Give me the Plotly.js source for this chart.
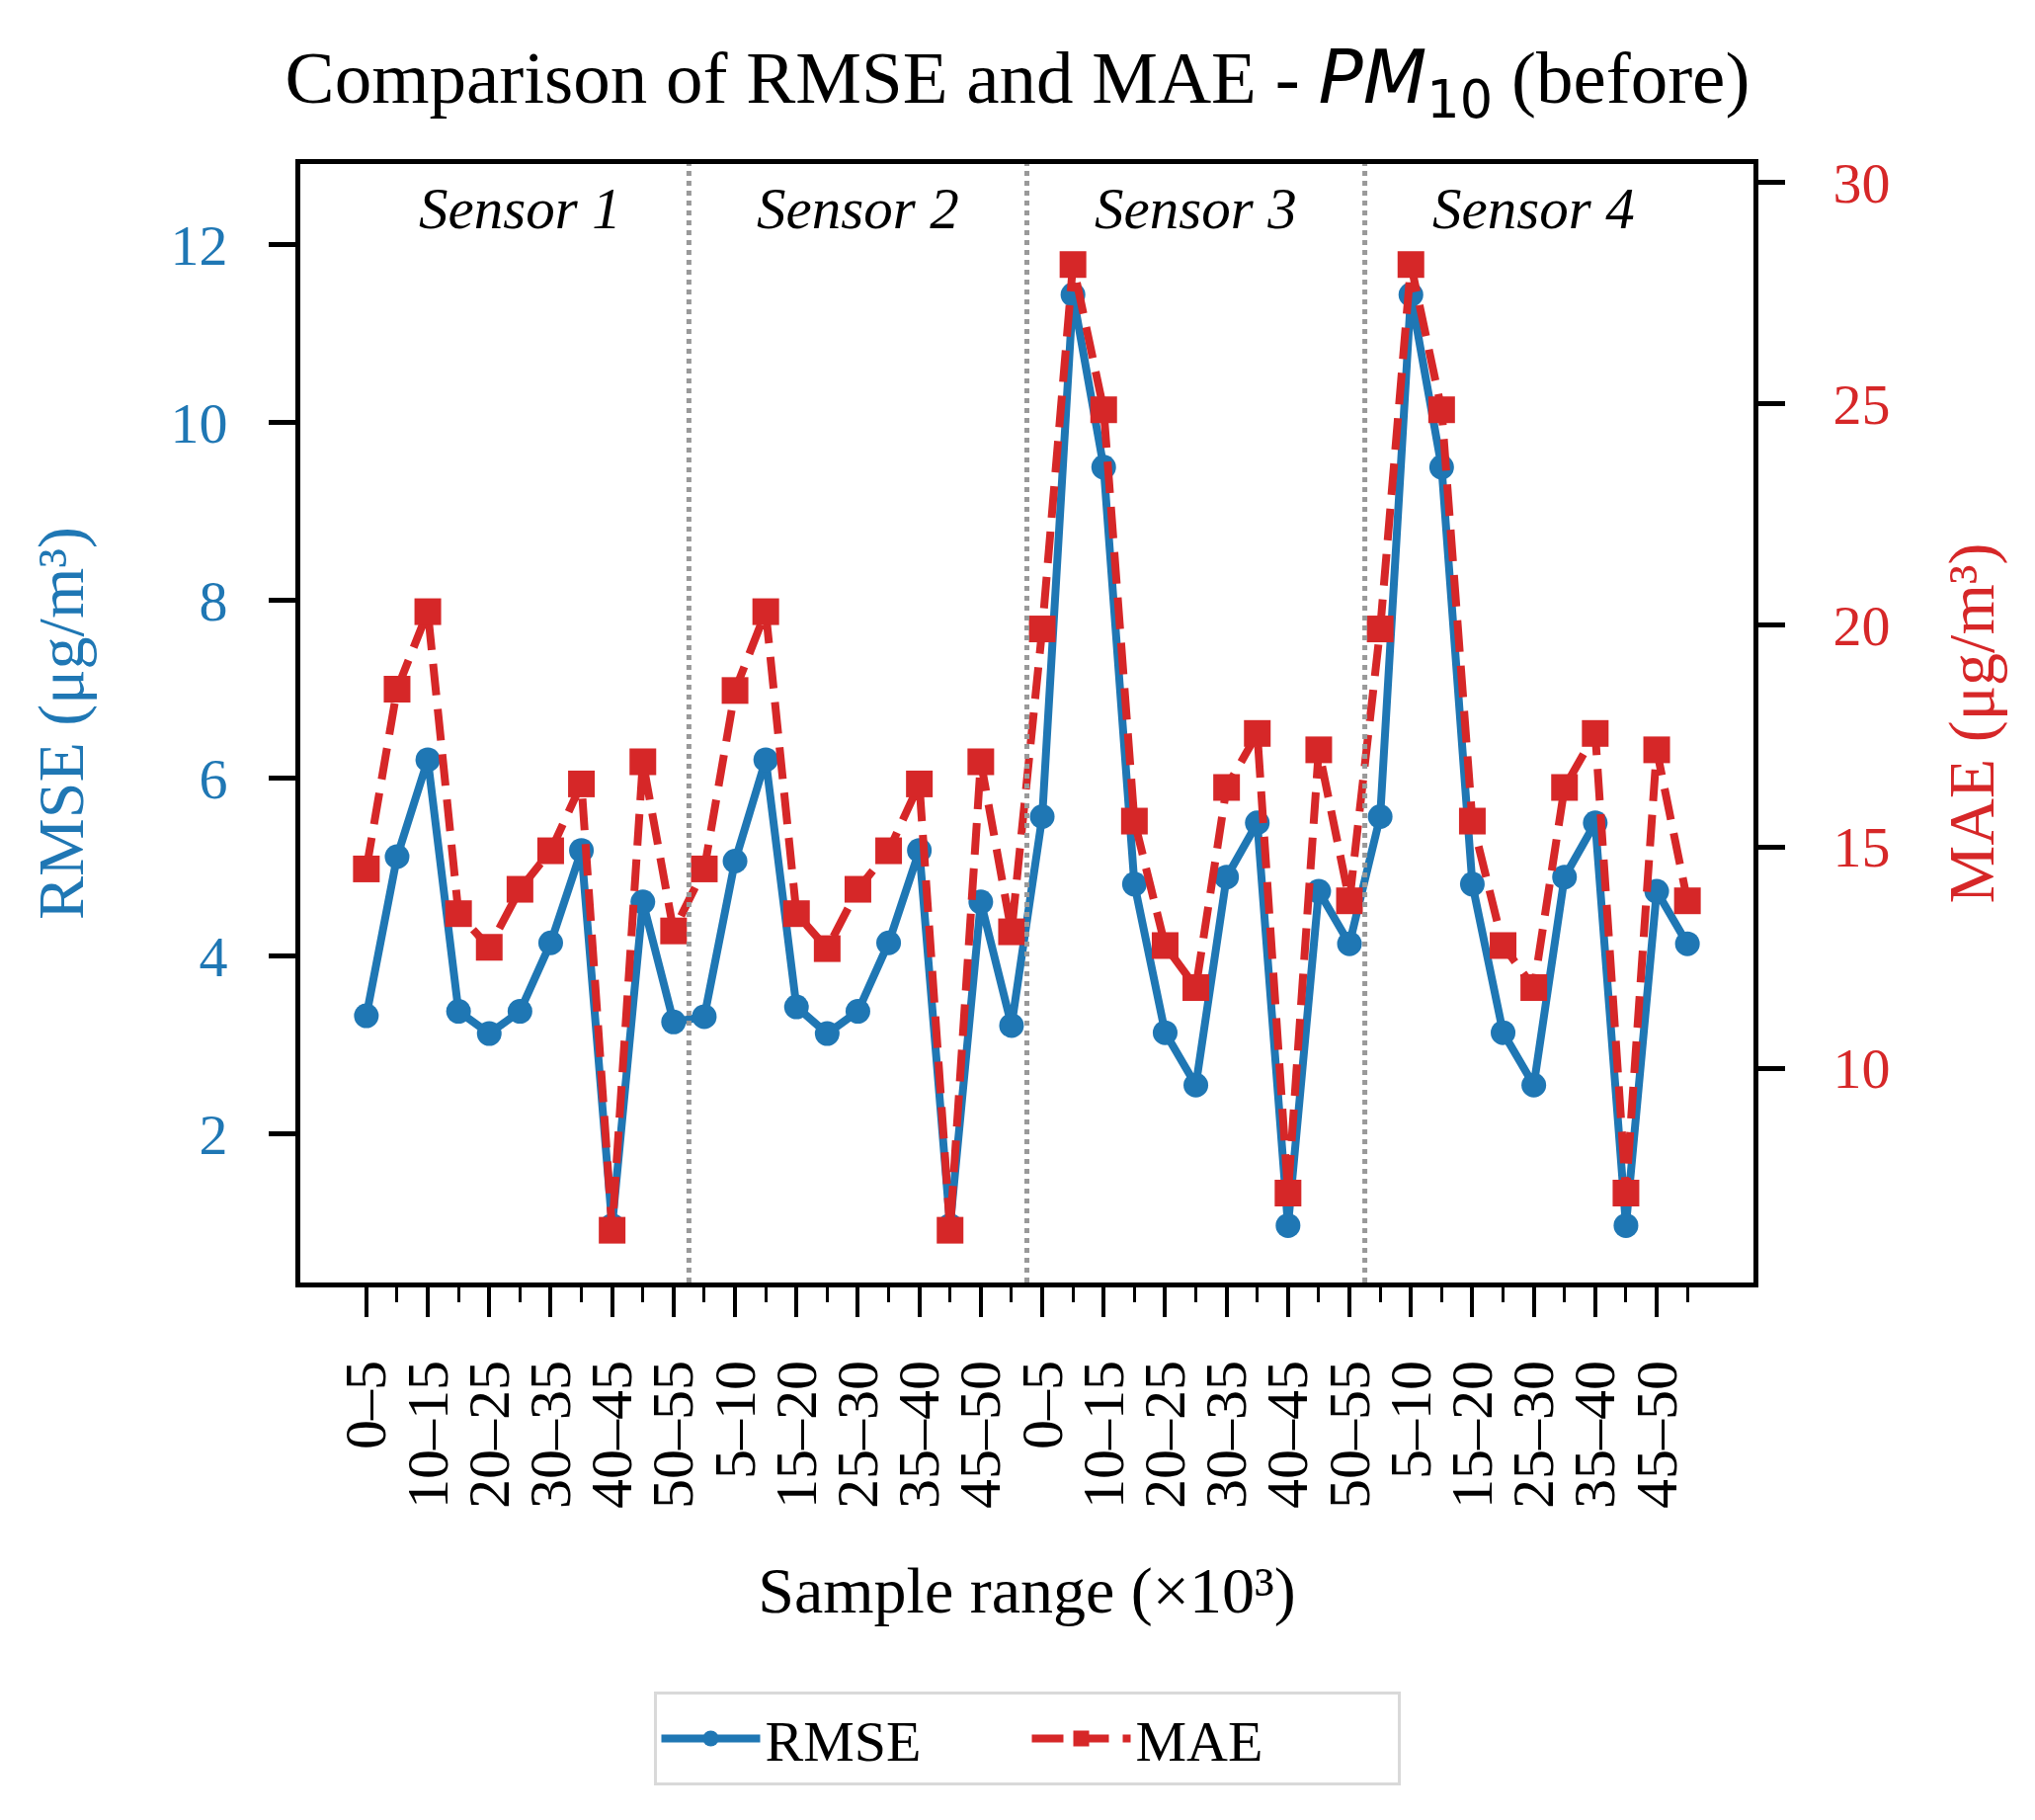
<!DOCTYPE html>
<html>
<head>
<meta charset="utf-8">
<script src="https://cdn.plot.ly/plotly-3.0.1.min.js"></script>
<style>
  html, body { margin: 0; padding: 0; background: #fff; }
  #chart { width: 2060px; height: 1842px; }
</style>
</head>
<body>
<div id="chart"></div>
<script>
/***** data *****/
var sensors = ['Sensor 1', 'Sensor 2', 'Sensor 3', 'Sensor 4'];
var ranges = ['0–5', '5–10', '10–15', '15–20', '20–25', '25–30',
              '30–35', '35–40', '40–45', '45–50', '50–55'];

var rmse1 = [3.33, 5.12, 6.21, 3.38, 3.13, 3.38, 4.15, 5.19, 0.97, 4.61, 3.26];
var rmse2 = [3.32, 5.07, 6.21, 3.43, 3.13, 3.38, 4.15, 5.19, 0.97, 4.61, 3.22];
var rmse3 = [5.57, 11.44, 9.50, 4.81, 3.14, 2.55, 4.89, 5.50, 0.97, 4.73, 4.14];
var rmse4 = [5.57, 11.44, 9.50, 4.81, 3.14, 2.55, 4.89, 5.50, 0.97, 4.73, 4.14];

var mae1 = [14.50, 18.56, 20.31, 13.49, 12.73, 14.04, 14.91, 16.42, 6.34, 16.92, 13.10];
var mae2 = [14.50, 18.53, 20.31, 13.49, 12.70, 14.04, 14.91, 16.42, 6.34, 16.92, 13.08];
var mae3 = [19.92, 28.15, 24.87, 15.58, 12.77, 11.82, 16.34, 17.56, 7.18, 17.19, 13.78];
var mae4 = [19.92, 28.15, 24.87, 15.58, 12.77, 11.82, 16.34, 17.56, 7.18, 17.19, 13.78];

/***** build series *****/
var rmse = rmse1.concat(rmse2, rmse3, rmse4);
var mae = mae1.concat(mae2, mae3, mae4);
var labels = [];
sensors.forEach(function () { labels = labels.concat(ranges); });
var idx = labels.map(function (d, i) { return i; });

var n = ranges.length;
var majorVals = idx.filter(function (i) { return i % 2 === 0; });
var majorText = majorVals.map(function (i) { return labels[i]; });
var minorVals = idx.filter(function (i) { return i % 2 === 1; });

var blue = '#1f77b4';
var red = '#d62728';
var serif = 'Liberation Serif, Times New Roman, serif';

var traceRmse = {
  x: idx,
  y: rmse,
  type: 'scatter',
  mode: 'lines+markers',
  name: 'RMSE',
  yaxis: 'y',
  line: { color: blue, width: 8 },
  marker: { color: blue, size: 25, symbol: 'circle' }
};

var traceMae = {
  x: idx,
  y: mae,
  type: 'scatter',
  mode: 'lines+markers',
  name: 'MAE',
  yaxis: 'y2',
  line: { color: red, width: 8, dash: '32px,14px' },
  marker: { color: red, size: 27, symbol: 'square' }
};

/***** separators and sensor names *****/
var shapes = [];
var annotations = [];
sensors.forEach(function (s, k) {
  if (k > 0) {
    shapes.push({
      type: 'line', xref: 'x', yref: 'paper',
      x0: k * n - 0.5, x1: k * n - 0.5, y0: 0, y1: 1,
      line: { color: '#999999', width: 5, dash: 'dot' }
    });
  }
  annotations.push({
    xref: 'x', yref: 'paper',
    x: k * n + (n - 1) / 2, y: 0.96,
    xanchor: 'center', yanchor: 'middle',
    text: '<i>' + s + '</i>',
    showarrow: false,
    font: { family: serif, size: 59, color: '#000' }
  });
});

var layout = {
  width: 2060,
  height: 1842,
  paper_bgcolor: '#fff',
  plot_bgcolor: '#fff',
  font: { family: serif, size: 58, color: '#000' },
  margin: { l: 304, r: 285, t: 166, b: 544 },
  title: {
    text: 'Comparison of RMSE and MAE - <span style="font-family:\'DejaVu Sans\'"><i>PM</i><sub>10</sub></span> (before)',
    font: { family: serif, size: 75, color: '#000' },
    x: 0.5, xanchor: 'center',
    y: 0.958, yanchor: 'middle'
  },
  xaxis: {
    range: [-2.15, 45.15],
    tickmode: 'array',
    tickvals: majorVals,
    ticktext: majorText,
    tickangle: -90,
    ticks: 'outside',
    ticklen: 30,
    tickwidth: 4,
    tickcolor: '#000',
    ticklabelstandoff: 20,
    minor: {
      tickmode: 'array',
      tickvals: minorVals,
      ticks: 'outside',
      ticklen: 15,
      tickwidth: 3,
      tickcolor: '#000',
      showgrid: false
    },
    tickfont: { family: serif, size: 60, color: '#000' },
    showline: true, linecolor: '#000', linewidth: 5, mirror: true,
    showgrid: false, zeroline: false,
    title: {
      text: 'Sample range (×10³)',
      font: { family: serif, size: 66, color: '#000' },
      standoff: 61
    }
  },
  yaxis: {
    range: [0.33, 12.91],
    tickvals: [2, 4, 6, 8, 10, 12],
    ticks: 'outside',
    ticklen: 27,
    tickwidth: 5,
    tickcolor: '#000',
    ticklabelstandoff: 30,
    tickfont: { family: serif, size: 58, color: blue },
    showline: true, linecolor: '#000', linewidth: 5, mirror: true,
    showgrid: false, zeroline: false,
    title: {
      text: 'RMSE (μg/m³)',
      font: { family: serif, size: 66, color: blue },
      standoff: 68
    }
  },
  yaxis2: {
    overlaying: 'y',
    side: 'right',
    range: [5.16, 30.42],
    tickvals: [10, 15, 20, 25, 30],
    ticks: 'outside',
    ticklen: 27,
    tickwidth: 5,
    tickcolor: '#000',
    ticklabelstandoff: 37,
    tickfont: { family: serif, size: 58, color: red },
    showline: true, linecolor: '#000', linewidth: 5,
    showgrid: false, zeroline: false,
    title: {
      text: 'MAE (μg/m³)',
      font: { family: serif, size: 66, color: red },
      standoff: 61
    }
  },
  showlegend: true,
  legend: {
    orientation: 'h',
    x: 0.5, xanchor: 'center',
    y: -0.366, yanchor: 'top',
    bordercolor: '#d9d9d9',
    borderwidth: 3,
    bgcolor: '#fff',
    font: { family: serif, size: 58, color: '#000' },
    itemsizing: 'trace',
    itemwidth: 100,
    entrywidth: 260,
    valign: 'middle'
  },
  shapes: shapes,
  annotations: annotations
};

var config = { displayModeBar: false, staticPlot: true };

var data = [traceRmse, traceMae];
Plotly.newPlot('chart', data, layout, config);
</script>
</body>
</html>
